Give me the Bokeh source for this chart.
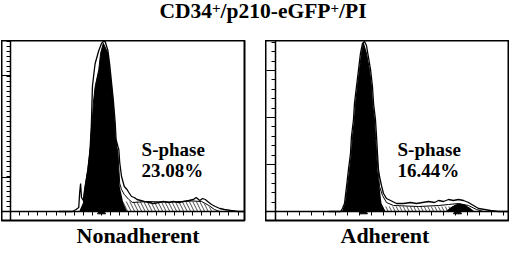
from bokeh.plotting import figure
from bokeh.models import Range1d, LinearAxis, FixedTicker, Label, Title, Div, CustomJSTickFormatter
from bokeh.layouts import column, row
from bokeh.embed import file_html
from bokeh.resources import INLINE

FONT = "Liberation Serif"

# ---------------- data ----------------
panel_names = ["Nonadherent", "Adherent"]
s_phase_text = ["23.08%", "16.44%"]

# Nonadherent: G1 model fit (black)
na_g1_ch = [76, 80, 82, 85, 87, 88, 90, 91, 93, 97, 99, 102, 107, 109, 111, 113, 114, 115, 118, 119, 120, 124, 128]
na_g1_cnt = [0, 33, 100, 167, 233, 300, 367, 433, 500, 567, 633, 673, 633, 567, 500, 433, 367, 300, 233, 167, 100, 33, 0]
# Nonadherent: S-phase model (hatched)
na_s_ch = [98, 110, 125, 150, 175, 200, 210, 218, 224]
na_s_cnt = [0, 36, 40, 38, 38, 40, 38, 20, 0]
# Nonadherent: total model fit
na_fit_ch = [76, 80, 82, 85, 87, 88, 90, 91, 93, 97, 99, 102, 107, 109, 111, 113, 114, 115, 118, 120, 122, 125, 130, 134, 150, 175, 200, 210, 218, 224, 230]
na_fit_cnt = [0, 33, 100, 167, 233, 300, 367, 433, 500, 567, 633, 673, 633, 567, 500, 433, 367, 300, 233, 112, 88, 68, 48, 36, 40, 38, 42, 40, 24, 8, 0]
# Nonadherent: measured DNA histogram
na_data_ch = [53, 68, 72, 75, 76, 77, 78, 80, 81, 82, 85, 87, 88, 89, 90, 92, 93, 97, 100, 102, 104, 107, 109, 111, 113, 115, 116, 118, 119, 120, 122, 125, 128, 130, 133, 136, 139, 143, 147, 152, 157, 163, 168, 174, 179, 185, 190, 196, 201, 204, 208, 211, 214, 218, 221, 225, 230, 235, 242, 250, 257]
na_data_cnt = [0, 0, 8, 16, 76, 112, 56, 44, 76, 100, 168, 232, 260, 368, 500, 564, 592, 644, 672, 680, 680, 644, 588, 516, 444, 356, 288, 260, 248, 196, 140, 100, 88, 76, 60, 56, 48, 44, 40, 36, 32, 36, 40, 36, 40, 36, 40, 44, 48, 56, 44, 52, 48, 36, 28, 20, 12, 8, 4, 0, 0]
na_peak_ch = [100]

# Adherent: G1 model fit (black)
ad_g1_ch = [55.8, 58.3, 60.0, 61.7, 63.3, 64.2, 65.8, 66.7, 68.3, 70.0, 71.7, 73.3, 75.8, 78.3, 80.0, 80.8, 82.5, 83.3, 84.2, 85.0, 86.7, 88.3, 91.7]
ad_g1_cnt = [0, 33, 100, 167, 233, 300, 367, 433, 500, 567, 633, 673, 633, 567, 500, 433, 367, 300, 233, 167, 100, 33, 0]
# Adherent: G2 model fit (black)
ad_g2_ch = [141.7, 145.8, 150.0, 153.3, 157.5, 161.7, 165.8]
ad_g2_cnt = [0, 16, 28, 32, 28, 16, 0]
# Adherent: S-phase model (hatched)
ad_s_ch = [72, 80, 90, 110, 130, 150, 158, 166]
ad_s_cnt = [0, 18, 20, 20, 20, 20, 12, 0]
# Adherent: total model fit
ad_fit_ch = [55.8, 58.3, 60.0, 61.7, 63.3, 64.2, 65.8, 66.7, 68.3, 70.0, 71.7, 73.3, 75.8, 78.3, 80.0, 80.8, 82.5, 83.3, 84.2, 86.7, 89.2, 92.5, 98.3, 119.2, 135.8, 144.2, 152.5, 160.8, 167.5, 173.3]
ad_fit_cnt = [0, 33, 100, 167, 233, 300, 367, 433, 500, 567, 633, 673, 633, 567, 500, 433, 367, 300, 233, 100, 64, 36, 24, 20, 24, 28, 32, 24, 8, 0]
# Adherent: measured DNA histogram
ad_data_ch = [44.2, 54.2, 55.8, 57.5, 59.2, 60.8, 62.5, 63.3, 65.0, 65.8, 67.5, 69.2, 70.8, 72.5, 74.2, 75.8, 77.5, 79.2, 80.8, 81.7, 83.3, 84.2, 85.0, 85.8, 86.7, 88.3, 90.0, 92.5, 94.2, 97.5, 100.8, 106.7, 112.5, 117.5, 122.5, 127.5, 132.5, 135.8, 140.0, 144.2, 148.3, 152.5, 156.7, 160.8, 165.0, 169.2, 174.2, 179.2, 185.8, 195.0]
ad_data_cnt = [0, 0, 12, 32, 100, 168, 232, 300, 368, 432, 500, 568, 632, 672, 680, 664, 616, 568, 500, 432, 368, 300, 232, 168, 140, 104, 72, 52, 48, 40, 32, 32, 36, 32, 36, 40, 36, 44, 40, 48, 44, 48, 44, 36, 24, 12, 8, 4, 0, 0]
ad_peak_ch = [73.3, 151.7]

# y-axis tick positions (counts)
na_y_major = [136, 544]
na_y_minor = [v for v in range(0, 684, 20) if v not in na_y_major]
ad_y_major = [188, 376, 564]
ad_y_minor = [round(37.6 * k, 1) for k in range(1, 19)]

NO_LABELS = CustomJSTickFormatter(code="return ''")


def make_panel(name, pct, xr, g1, s, fit, dat, peaks, y_major, y_minor, g2=None,
               width=264, mb_right=21, text_x=144, name_offset=75):
    p = figure(width=width, height=215, x_range=Range1d(*xr), y_range=Range1d(-36, 684),
               x_axis_type=None, y_axis_type=None, toolbar_location=None,
               output_backend="svg", title=None,
               min_border_left=0, min_border_right=mb_right, min_border_top=0, min_border_bottom=35)
    p.outline_line_color = "black"
    p.outline_line_width = 2
    p.background_fill_color = "white"
    p.border_fill_color = "white"

    p.varea(x=s[0], y1=0, y2=s[1], fill_alpha=0, hatch_pattern="\\", hatch_color="black",
            hatch_scale=7, hatch_weight=0.7)
    p.varea(x=g1[0], y1=0, y2=g1[1], fill_color="black")
    if g2 is not None:
        p.varea(x=g2[0], y1=0, y2=g2[1], fill_color="black")
    p.line(fit[0], fit[1], line_color="black", line_width=1)
    p.line(dat[0], dat[1], line_color="black", line_width=1.3)
    p.scatter(x=peaks, y=[0] * len(peaks), marker="triangle", size=8, color="black")

    xaxis = LinearAxis(fixed_location=0, ticker=FixedTicker(ticks=list(range(0, 260, 10))),
                       formatter=NO_LABELS,
                       major_tick_in=0, major_tick_out=4, minor_tick_out=0, minor_tick_in=0,
                       axis_line_width=1.5, major_tick_line_width=1)
    p.add_layout(xaxis, "below")
    yaxis = LinearAxis(fixed_location=0, ticker=FixedTicker(ticks=y_major, minor_ticks=y_minor),
                       formatter=NO_LABELS,
                       major_tick_in=0, major_tick_out=9, minor_tick_in=0, minor_tick_out=4,
                       axis_line_width=1.5, major_tick_line_width=1.2, minor_tick_line_width=1)
    p.add_layout(yaxis, "left")

    for txt, yv in (("S-phase", 248), (pct, 164)):
        p.add_layout(Label(x=text_x, y=yv, text=txt, text_font=FONT, text_font_size="19px",
                           text_font_style="bold", text_color="black", text_baseline="alphabetic"))

    t = Title(text=name, align="left", text_font=FONT, text_font_size="22px",
              text_font_style="bold", text_color="black", offset=name_offset, standoff=0)
    p.add_layout(t, "below")
    return p


left = make_panel(panel_names[0], s_phase_text[0], (-9.9, 257.1),
                  (na_g1_ch, na_g1_cnt), (na_s_ch, na_s_cnt), (na_fit_ch, na_fit_cnt),
                  (na_data_ch, na_data_cnt), na_peak_ch, na_y_major, na_y_minor,
                  width=264, mb_right=21, text_x=144, name_offset=75)
right = make_panel(panel_names[1], s_phase_text[1], (-8.33, 195.0),
                   (ad_g1_ch, ad_g1_cnt), (ad_s_ch, ad_s_cnt), (ad_fit_ch, ad_fit_cnt),
                   (ad_data_ch, ad_data_cnt), ad_peak_ch, ad_y_major, ad_y_minor,
                   g2=(ad_g2_ch, ad_g2_cnt), width=244, mb_right=0, text_x=101.7, name_offset=75)

SUP = ('<sup style="font-size:70%;line-height:0;vertical-align:baseline;'
       'position:relative;top:-0.35em;">+</sup>')
head = Div(text=('<div style="font-family:\'Liberation Serif\';font-weight:bold;font-size:21.5px;'
                 'line-height:22px;padding-top:3px;text-align:center;width:508px;'
                 'position:relative;left:3px;color:black;white-space:nowrap;">'
                 'CD34' + SUP + '/p210-eGFP' + SUP + '/PI</div>'),
           width=508, height=38)

layout = column(head, row(left, right, spacing=0), spacing=0,
                styles={"margin-left": "1px", "margin-top": "-8px", "margin-bottom": "-10px"})

open("out.html", "w").write(file_html(layout, INLINE))
